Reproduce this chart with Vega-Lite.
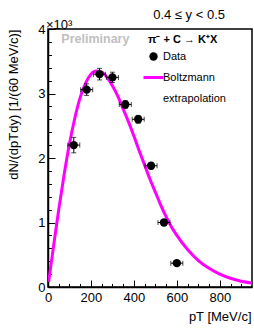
{
  "$schema": "https://vega.github.io/schema/vega-lite/v6.json",
  "width": 204,
  "height": 258,
  "autosize": "none",
  "padding": {"left": 48, "top": 29, "right": 2, "bottom": 42},
  "background": "white",
  "title": {"text": "0.4 ≤ y < 0.5", "anchor": "end", "frame": "group", "orient": "top", "offset": 11, "baseline": "alphabetic", "dx": -27, "dy": 24, "font": "Liberation Sans", "fontSize": 13, "fontWeight": "normal", "color": "black"},
  "config": {"view": {"stroke": "black", "strokeWidth": 1.5}, "font": "Liberation Sans"},
  "resolve": {"axis": {"x": "independent", "y": "independent"}},
  "datasets": {
    "points": [
      {"pT": 120, "y": 2.20, "xlo": 92, "xhi": 148, "ylo": 2.08, "yhi": 2.32, "series": "Data"},
      {"pT": 180, "y": 3.06, "xlo": 152, "xhi": 208, "ylo": 2.97, "yhi": 3.15, "series": "Data"},
      {"pT": 240, "y": 3.30, "xlo": 212, "xhi": 268, "ylo": 3.21, "yhi": 3.39, "series": "Data"},
      {"pT": 300, "y": 3.25, "xlo": 272, "xhi": 328, "ylo": 3.17, "yhi": 3.33, "series": "Data"},
      {"pT": 360, "y": 2.83, "xlo": 332, "xhi": 388, "ylo": 2.77, "yhi": 2.89, "series": "Data"},
      {"pT": 420, "y": 2.60, "xlo": 392, "xhi": 448, "ylo": 2.54, "yhi": 2.66, "series": "Data"},
      {"pT": 480, "y": 1.88, "xlo": 452, "xhi": 508, "ylo": 1.83, "yhi": 1.93, "series": "Data"},
      {"pT": 540, "y": 1.00, "xlo": 512, "xhi": 568, "ylo": 0.96, "yhi": 1.04, "series": "Data"},
      {"pT": 600, "y": 0.37, "xlo": 572, "xhi": 628, "ylo": 0.34, "yhi": 0.40, "series": "Data"}
    ],
    "curve": [
      {"pT": 3, "y": 0.08, "series": "Boltzmann"},
      {"pT": 25, "y": 0.61, "series": "Boltzmann"},
      {"pT": 50, "y": 1.20, "series": "Boltzmann"},
      {"pT": 75, "y": 1.74, "series": "Boltzmann"},
      {"pT": 100, "y": 2.22, "series": "Boltzmann"},
      {"pT": 125, "y": 2.62, "series": "Boltzmann"},
      {"pT": 150, "y": 2.94, "series": "Boltzmann"},
      {"pT": 175, "y": 3.16, "series": "Boltzmann"},
      {"pT": 200, "y": 3.30, "series": "Boltzmann"},
      {"pT": 225, "y": 3.35, "series": "Boltzmann"},
      {"pT": 250, "y": 3.33, "series": "Boltzmann"},
      {"pT": 275, "y": 3.25, "series": "Boltzmann"},
      {"pT": 300, "y": 3.12, "series": "Boltzmann"},
      {"pT": 325, "y": 2.96, "series": "Boltzmann"},
      {"pT": 350, "y": 2.76, "series": "Boltzmann"},
      {"pT": 375, "y": 2.56, "series": "Boltzmann"},
      {"pT": 400, "y": 2.34, "series": "Boltzmann"},
      {"pT": 425, "y": 2.11, "series": "Boltzmann"},
      {"pT": 450, "y": 1.89, "series": "Boltzmann"},
      {"pT": 475, "y": 1.67, "series": "Boltzmann"},
      {"pT": 500, "y": 1.47, "series": "Boltzmann"},
      {"pT": 525, "y": 1.27, "series": "Boltzmann"},
      {"pT": 550, "y": 1.09, "series": "Boltzmann"},
      {"pT": 575, "y": 0.93, "series": "Boltzmann"},
      {"pT": 600, "y": 0.80, "series": "Boltzmann"},
      {"pT": 650, "y": 0.58, "series": "Boltzmann"},
      {"pT": 700, "y": 0.41, "series": "Boltzmann"},
      {"pT": 750, "y": 0.29, "series": "Boltzmann"},
      {"pT": 800, "y": 0.20, "series": "Boltzmann"},
      {"pT": 850, "y": 0.135, "series": "Boltzmann"},
      {"pT": 900, "y": 0.09, "series": "Boltzmann"},
      {"pT": 950, "y": 0.06, "series": "Boltzmann"}
    ]
  },
  "layer": [
    {
      "data": {"name": "curve"},
      "mark": {"type": "line", "strokeWidth": 3, "interpolate": "monotone", "clip": true},
      "encoding": {
        "x": {
          "field": "pT", "type": "quantitative", "title": "pT [MeV/c]",
          "scale": {"domain": [0, 950], "nice": false, "zero": false},
          "axis": {
            "orient": "bottom",
            "values": [0, 200, 400, 600, 800],
            "format": "d",
            "tickSize": -7,
            "tickColor": "black", "tickWidth": 1,
            "domainColor": "black", "domainWidth": 1.5,
            "labelColor": "black", "labelFont": "Liberation Sans", "labelFontSize": 13, "labelPadding": 11,
            "labelFlush": false, "labelOverlap": false, "grid": false,
            "titleFont": "Liberation Sans", "titleFontSize": 13, "titleFontWeight": "normal", "titleColor": "black",
            "titleAnchor": "end", "titleAlign": "right", "titleX": 203, "titleY": 33, "titleBaseline": "alphabetic"
          }
        },
        "y": {
          "field": "y", "type": "quantitative", "title": "dN/(dpTdy) [1/(60 MeV/c)]",
          "scale": {"domain": [0, 4], "nice": false},
          "axis": {
            "orient": "left",
            "values": [0, 1, 2, 3, 4],
            "format": "d",
            "tickSize": -7,
            "tickColor": "black", "tickWidth": 1,
            "domainColor": "black", "domainWidth": 1.5,
            "labelColor": "black", "labelFont": "Liberation Sans", "labelFontSize": 13, "labelPadding": 10,
            "labelFlush": false, "labelOverlap": false, "grid": false,
            "titleFont": "Liberation Sans", "titleFontSize": 13, "titleFontWeight": "normal", "titleColor": "black",
            "titleAnchor": "end", "titleAlign": "right", "titleX": -31, "titleY": 0, "titleBaseline": "alphabetic", "titleAngle": -90
          }
        },
        "color": {
          "field": "series", "type": "nominal",
          "scale": {"domain": ["Data", "Boltzmann"], "range": ["black", "#ff00ff"]},
          "legend": {
            "orient": "none", "legendX": 100, "legendY": 5, "padding": 0,
            "title": "π⁻ + C  → K⁺X",
            "titleFont": "Liberation Sans", "titleFontSize": 11, "titleFontWeight": "bold", "titleColor": "black", "titlePadding": 6,
            "labelFont": "Liberation Sans", "labelFontSize": 11, "labelColor": "black", "labelOffset": 4,
            "symbolSize": 400, "symbolType": "stroke", "rowPadding": 9,
            "labelBaseline": "top",
            "labelExpr": "datum.label === 'Boltzmann' ? ['Boltzmann', 'extrapolation'] : datum.label",
            "encode": {
              "symbols": {"update": {
                "shape": {"signal": "datum.value === 'Data' ? 'circle' : 'stroke'"},
                "size": {"signal": "datum.value === 'Data' ? 70 : 400"},
                "fill": {"signal": "datum.value === 'Data' ? 'black' : 'transparent'"},
                "stroke": {"signal": "datum.value === 'Data' ? 'black' : '#ff00ff'"},
                "strokeWidth": {"signal": "datum.value === 'Data' ? 0 : 3"},
                "opacity": {"value": 1}
              }},
              "labels": {"update": {"lineHeight": {"value": 21}, "dy": {"value": -6}}}
            }
          }
        }
      }
    },
    {
      "data": {"name": "points"},
      "mark": {"type": "errorbar", "color": "black", "ticks": {"size": 5}},
      "encoding": {
        "x": {"field": "xlo", "type": "quantitative", "axis": null},
        "x2": {"field": "xhi"},
        "y": {"field": "y", "type": "quantitative", "axis": null}
      }
    },
    {
      "data": {"name": "points"},
      "mark": {"type": "errorbar", "color": "black", "ticks": {"size": 5}},
      "encoding": {
        "x": {"field": "pT", "type": "quantitative", "axis": null},
        "y": {"field": "ylo", "type": "quantitative", "axis": null},
        "y2": {"field": "yhi"}
      }
    },
    {
      "data": {"name": "points"},
      "mark": {"type": "point", "filled": true, "size": 70, "opacity": 1},
      "encoding": {
        "x": {"field": "pT", "type": "quantitative",
          "axis": {"orient": "bottom", "values": [50, 100, 150, 250, 300, 350, 450, 500, 550, 650, 700, 750, 850, 900], "labels": false, "domain": false, "title": null, "grid": false, "tickSize": -3.5, "tickColor": "black", "tickWidth": 1}},
        "y": {"field": "y", "type": "quantitative",
          "axis": {"orient": "left", "values": [0.2, 0.4, 0.6, 0.8, 1.2, 1.4, 1.6, 1.8, 2.2, 2.4, 2.6, 2.8, 3.2, 3.4, 3.6, 3.8], "labels": false, "domain": false, "title": null, "grid": false, "tickSize": -3.5, "tickColor": "black", "tickWidth": 1}},
        "color": {"field": "series", "type": "nominal"}
      }
    },
    {
      "data": {"values": [{}]},
      "mark": {"type": "text", "text": "Preliminary", "align": "left", "baseline": "middle", "font": "Liberation Sans", "fontSize": 12.5, "fontWeight": "bold", "color": "#c0c0c0"},
      "encoding": {"x": {"datum": 62, "axis": null}, "y": {"datum": 3.85, "axis": null}}
    },
    {
      "data": {"values": [{}]},
      "mark": {"type": "text", "text": "×10³", "align": "left", "baseline": "alphabetic", "dx": -2, "font": "Liberation Sans", "fontSize": 13, "color": "black", "clip": false},
      "encoding": {"x": {"datum": 0, "axis": null}, "y": {"datum": 4, "axis": null}}
    }
  ]
}
